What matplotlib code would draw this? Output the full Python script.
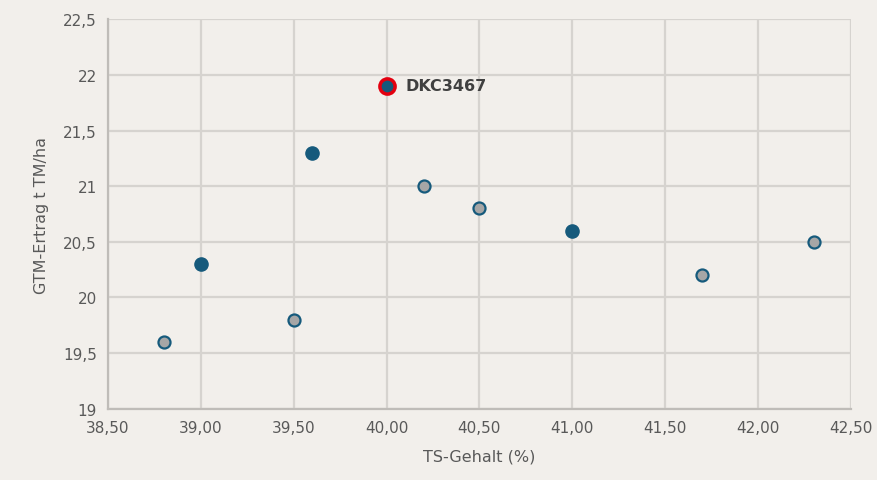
import matplotlib
matplotlib.use('Agg')
from matplotlib import pyplot as plt
from matplotlib.ticker import FuncFormatter

# Sorten-Daten: TS-Gehalt (%) und GTM-Ertrag (t TM/ha)
gray_ts = [38.8, 39.5, 40.2, 40.5, 41.7, 42.3]
gray_ertrag = [19.6, 19.8, 21.0, 20.8, 20.2, 20.5]

blue_ts = [39.0, 39.6, 41.0]
blue_ertrag = [20.3, 21.3, 20.6]

hl_ts = [40.0]
hl_ertrag = [21.9]
hl_label = 'DKC3467'

x_ticks = [38.5, 39.0, 39.5, 40.0, 40.5, 41.0, 41.5, 42.0, 42.5]
y_ticks = [19, 19.5, 20, 20.5, 21, 21.5, 22, 22.5]

bg = '#f2efeb'
dark_blue = '#165a7c'
txt = '#595959'

fig = plt.figure(figsize=(8.78, 4.81), dpi=100, facecolor=bg)
ax = fig.add_axes([0.123, 0.148, 0.846, 0.81], facecolor=bg)

ax.scatter(gray_ts, gray_ertrag, s=75, color='#a6a6a6', edgecolors=dark_blue, linewidths=1.6, zorder=3)
ax.scatter(blue_ts, blue_ertrag, s=90, color=dark_blue, edgecolors=dark_blue, linewidths=1, zorder=3)
ax.scatter(hl_ts, hl_ertrag, s=120, color=dark_blue, edgecolors='#e3000f', linewidths=2.5, zorder=4)
ax.annotate(hl_label, (hl_ts[0], hl_ertrag[0]), xytext=(14, 0), textcoords='offset points',
            va='center', ha='left', fontsize=11.5, fontweight='bold', color='#404040')

ax.set_xlim(38.5, 42.5)
ax.set_ylim(19, 22.5)
ax.set_xticks(x_ticks)
ax.set_yticks(y_ticks)
ax.xaxis.set_major_formatter(FuncFormatter(lambda v, p: f'{v:.2f}'.replace('.', ',')))
ax.yaxis.set_major_formatter(FuncFormatter(lambda v, p: f'{v:g}'.replace('.', ',')))

ax.grid(True, color='#d6d3cf', lw=1.6)
ax.set_axisbelow(True)
for side in ['top', 'right']:
    ax.spines[side].set_visible(False)
for side in ['left', 'bottom']:
    ax.spines[side].set_color('#bfbcb8')
    ax.spines[side].set_linewidth(1.6)
ax.tick_params(length=0, labelsize=11, colors=txt, pad=8)

ax.set_xlabel('TS-Gehalt (%)', fontsize=11.5, color=txt, labelpad=10)
ax.set_ylabel('GTM-Ertrag t TM/ha', fontsize=11.5, color=txt, labelpad=10)

fig.savefig('out.png', dpi=100, facecolor=bg)
